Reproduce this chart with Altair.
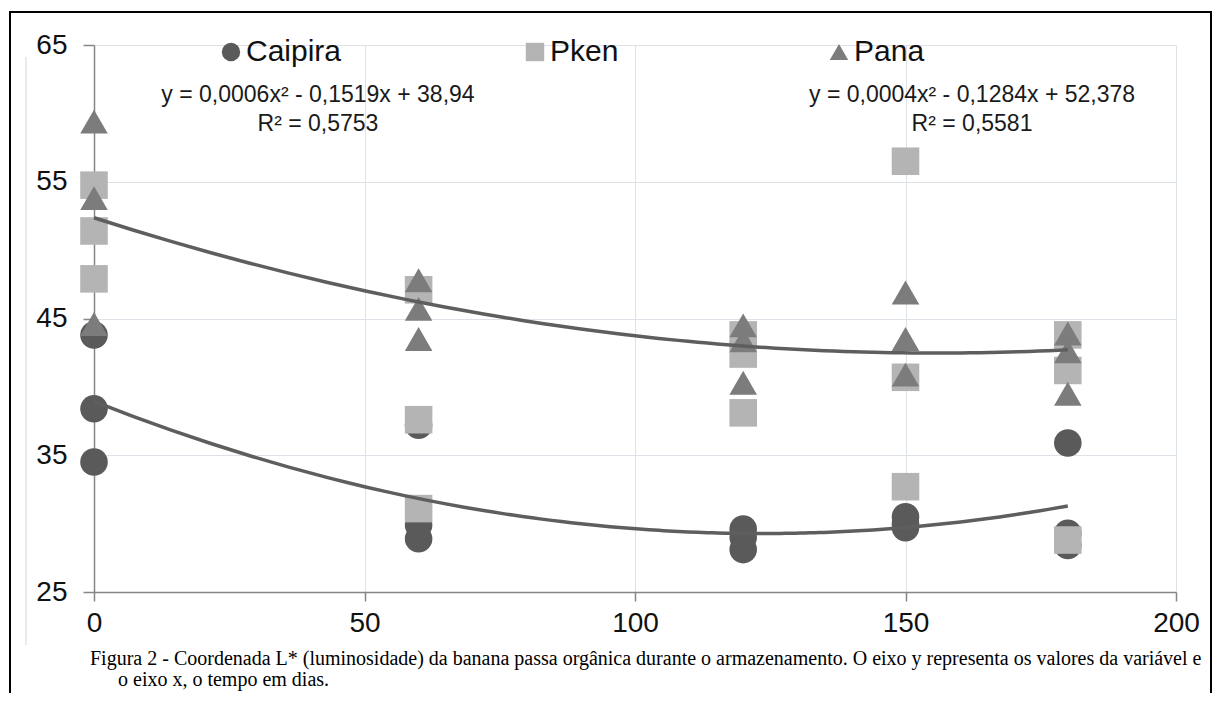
import altair as alt
import pandas as pd

# ---- data ----
series = ["Caipira", "Pken", "Pana"]
dias = [0, 0, 0, 60, 60, 60, 120, 120, 120, 150, 150, 150, 180, 180, 180]
caipira = [43.8, 38.4, 34.5, 37.2, 29.9, 28.9, 29.6, 29.0, 28.1, 30.5, 30.0, 29.7, 35.9, 29.3, 28.4]
pken = [54.75, 51.4, 47.9, 47.1, 37.6, 31.1, 43.8, 42.4, 38.1, 56.5, 40.7, 32.7, 43.8, 41.2, 28.8]
pana = [59.4, 53.8, 44.6, 47.8, 45.7, 43.5, 44.5, 43.4, 40.3, 46.9, 43.5, 40.9, 43.9, 42.6, 39.5]
x_ticks = [0, 50, 100, 150, 200]
y_ticks = [25, 35, 45, 55, 65]
colors = ["#5a5a5a", "#b4b4b4", "#7c7c7c"]
shapes = ["circle", "square", "triangle-up"]
trend_series = ["Caipira", "Pana"]
eq_texts = [
    "y = 0,0006x² - 0,1519x + 38,94\nR² = 0,5753",
    "y = 0,0004x² - 0,1284x + 52,378\nR² = 0,5581",
]
eq_dia = [41.4, 162.3]
eq_L = [60.8, 60.8]
caption_line1 = ("Figura 2 - Coordenada L* (luminosidade) da banana passa orgânica durante o armazenamento. "
                 "O eixo y representa os valores da variável e")
caption_line2 = "o eixo x, o tempo em dias."

rows = []
for name, vals in zip(series, [caipira, pken, pana]):
    for d, v in zip(dias, vals):
        rows.append({"serie": name, "dia": d, "L": v})
df = pd.DataFrame(rows)
eq_df = pd.DataFrame({"dia": eq_dia, "L": eq_L, "texto": eq_texts})
one = pd.DataFrame({"l1": [caption_line1], "l2": [caption_line2]})

x_enc = alt.X("dia:Q", scale=alt.Scale(domain=[0, 200], nice=False),
              axis=alt.Axis(values=x_ticks, title=None, tickSize=9, labelPadding=8,
                            labelFlush=False, labelOverlap=False))
y_enc = alt.Y("L:Q", scale=alt.Scale(domain=[25, 65], nice=False, zero=False),
              axis=alt.Axis(values=y_ticks, title=None, tickSize=11, labelPadding=16,
                            labelFlush=False, labelOverlap=False))

legend = alt.Legend(title=None, orient="none", legendX=122, legendY=-8,
                    direction="horizontal", columns=3, gridAlign="all",
                    columnPadding=178, symbolSize=340, labelFontSize=30,
                    labelFont="Liberation Sans", labelColor="#111111",
                    labelOffset=0, padding=0, symbolStrokeWidth=0)

points = alt.Chart(df).mark_point(filled=True, opacity=1, size=760).encode(
    x=x_enc,
    y=y_enc,
    color=alt.Color("serie:N", scale=alt.Scale(domain=series, range=colors), legend=legend),
    shape=alt.Shape("serie:N", scale=alt.Scale(domain=series, range=shapes), legend=legend),
)

trend = alt.Chart(df).transform_filter(
    alt.FieldOneOfPredicate(field="serie", oneOf=trend_series)
).transform_regression(
    "dia", "L", method="poly", order=2, groupby=["serie"], extent=[0, 180]
).mark_line(color="#5e5e5e", strokeWidth=3.5).encode(
    x="dia:Q", y="L:Q", detail="serie:N"
)

eqs = alt.Chart(eq_df).mark_text(
    font="Liberation Sans", fontSize=23, lineHeight=29, lineBreak="\n",
    align="center", baseline="alphabetic", color="#1a1a1a"
).encode(x="dia:Q", y="L:Q", text="texto:N")

cap1 = alt.Chart(one).mark_text(
    font="Liberation Serif", fontSize=20, align="left", baseline="alphabetic", color="black"
).encode(x=alt.value(-4), y=alt.value(620), text="l1:N")
cap2 = alt.Chart(one).mark_text(
    font="Liberation Serif", fontSize=20, align="left", baseline="alphabetic", color="black"
).encode(x=alt.value(24), y=alt.value(641), text="l2:N")

frame = alt.Chart(one).mark_rect(fillOpacity=0, stroke="black", strokeWidth=2).encode(
    x=alt.value(-84), x2=alt.value(1117), y=alt.value(-33), y2=alt.value(700)
)
border = alt.Chart(one).mark_rule(color="#e4e4e4", strokeWidth=1.5).encode(
    x=alt.value(-68), y=alt.value(12), y2=alt.value(600)
)

chart = alt.layer(border, frame, points, trend, eqs, cap1, cap2).properties(
    width=1082,
    height=547,
    padding={"left": 86, "top": 37, "right": 37, "bottom": 101},
    autosize=alt.AutoSizeParams(type="none"),
).configure_view(strokeWidth=0).configure_axis(
    domainColor="#868686", domainWidth=1.5, tickColor="#868686", tickWidth=1.5,
    gridColor="#dde1e8", gridWidth=1, labelFont="Liberation Sans", labelFontSize=28,
    labelColor="#111111"
)

chart.save("out.html", embed_options={"renderer": "svg", "actions": False})
